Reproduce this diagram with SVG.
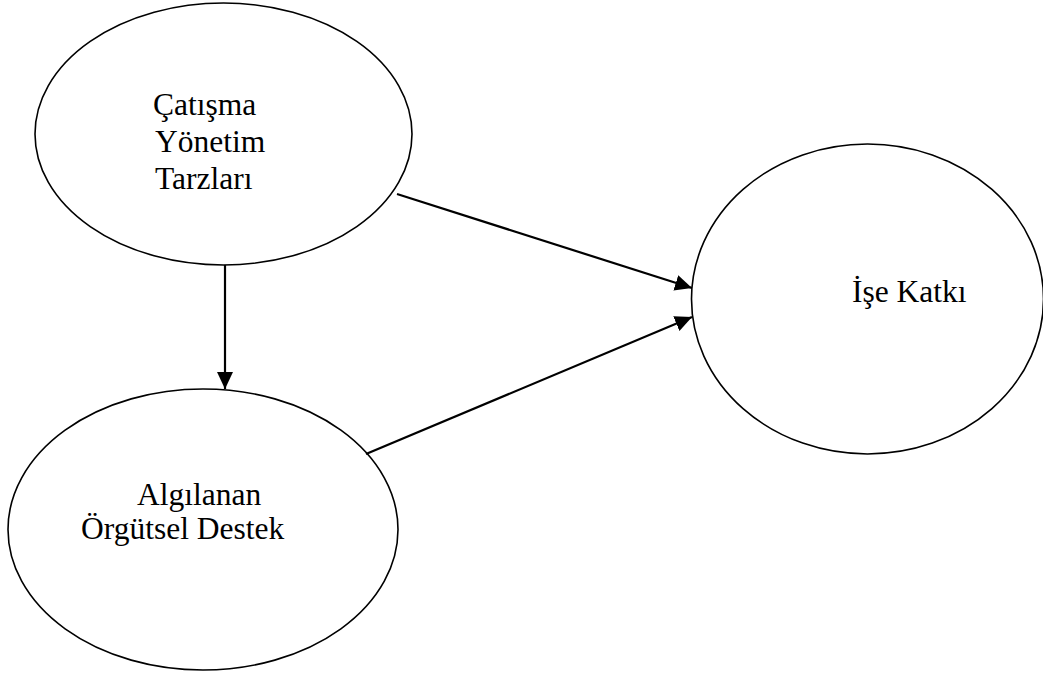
<svg xmlns="http://www.w3.org/2000/svg" width="1043" height="675" viewBox="0 0 1043 675">
  <style>
    .node { fill: #ffffff; stroke: #000000; stroke-width: 1.6; }
    .label { font-family: "Liberation Serif", "Times New Roman", serif; font-size: 31.5px; fill: #000000; }
    .edge { stroke: #000000; stroke-width: 2.2; fill: none; marker-end: url(#arrow); }
  </style>
  <defs>
    <marker id="arrow" markerUnits="userSpaceOnUse" markerWidth="19" markerHeight="17" refX="17" refY="8" orient="auto">
      <path d="M0,0 L17,8 L0,16 Z" fill="#000000"/>
    </marker>
  </defs>
  <rect width="1043" height="675" fill="#ffffff"/>

  <g id="node-catisma">
    <ellipse class="node" cx="223.5" cy="134" rx="188.5" ry="131"/>
    <text class="label" x="153" y="115">Çatışma</text>
    <text class="label" x="155" y="152">Yönetim</text>
    <text class="label" x="155" y="189">Tarzları</text>
  </g>

  <g id="node-destek">
    <ellipse class="node" cx="203" cy="529.5" rx="195" ry="140.5"/>
    <text class="label" x="137" y="505">Algılanan</text>
    <text class="label" x="81" y="539">Örgütsel Destek</text>
  </g>

  <g id="node-katki">
    <ellipse class="node" cx="867.5" cy="299" rx="176" ry="155"/>
    <text class="label" x="852" y="302">İşe Katkı</text>
  </g>

  <g id="connectors">
    <line class="edge" x1="225" y1="265" x2="225" y2="389"/>
    <line class="edge" x1="397" y1="194" x2="692" y2="288"/>
    <line class="edge" x1="366" y1="454" x2="692" y2="317"/>
  </g>
</svg>
